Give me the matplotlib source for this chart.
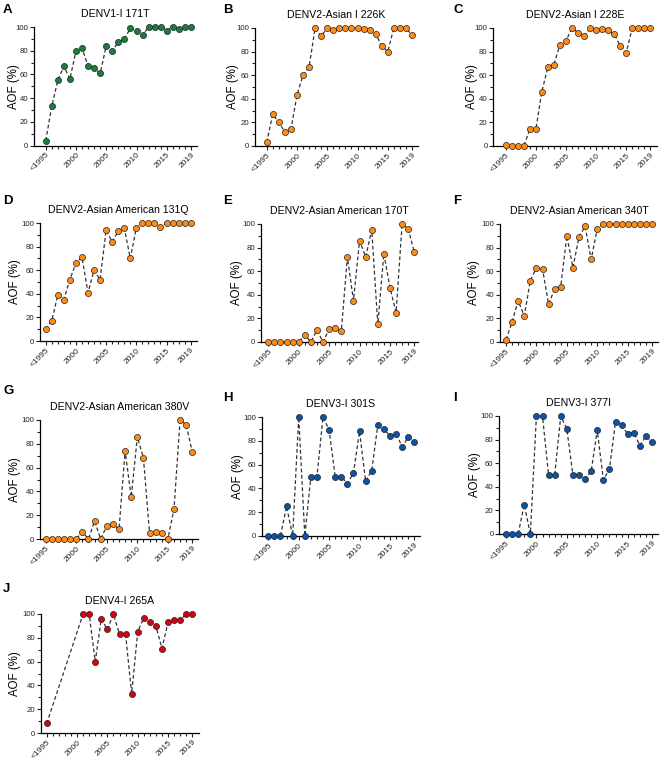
import numpy as np
import matplotlib
matplotlib.use('AGG')
import matplotlib.pyplot as plt
from matplotlib.ticker import MultipleLocator, FixedLocator

plt.rcParams['font.family'] = ['Liberation Sans', 'DejaVu Sans']

years = list(range(1995, 2020))
tick_years = [1995, 2000, 2005, 2010, 2015, 2019]
tick_labels = ['<1995', '2000', '2005', '2010', '2015', '2019']

green = '#167f3b'
orange = '#ff8a14'
blue = '#0b53a6'
red = '#d9000f'

a_171T = [4, 33, 55, 67, 56, 80, 82, 67, 65, 61, 84, 80, 87, 90, 99, 97, 93, 100, 100, 100, 97, 100, 98, 100, 100]
b_226K = [3, 27, 20, 12, 14, 43, 60, 67, 100, 93, 100, 98, 100, 100, 100, 100, 99, 98, 95, 85, 80, 100, 100, 100, 94]
c_228E = [1, 0, 0, 0, 14, 14, 46, 67, 69, 86, 89, 100, 96, 93, 100, 98, 99, 98, 95, 85, 79, 100, 100, 100, 100]
d_131Q = [10, 17, 39, 35, 52, 66, 71, 41, 60, 52, 94, 84, 93, 96, 70, 96, 100, 100, 100, 97, 100, 100, 100, 100, 100]
e_170T = [0, 0, 0, 0, 0, 0, 6, 0, 10, 0, 11, 12, 9, 72, 35, 86, 72, 95, 15, 75, 46, 25, 100, 96, 76]
f_340T = [2, 17, 35, 22, 52, 63, 62, 32, 45, 47, 90, 63, 89, 98, 70, 96, 100, 100, 100, 100, 100, 100, 100, 100, 100]
g_380V = [0, 0, 0, 0, 0, 0, 6, 0, 15, 0, 11, 13, 8, 74, 35, 86, 68, 5, 6, 5, 0, 25, 100, 96, 73]
h_301S = [0, 0, 0, 25, 0, 100, 0, 50, 50, 100, 89, 50, 50, 44, 53, 88, 46, 55, 93, 90, 84, 86, 75, 83, 79]
i_377I = [0, 0, 0, 25, 0, 100, 100, 50, 50, 100, 89, 50, 50, 47, 53, 88, 46, 55, 95, 92, 85, 86, 75, 83, 78]
j_years = [1995] + list(range(2001, 2020))
j_265A = [8, 100, 100, 60, 96, 87, 100, 83, 83, 33, 85, 97, 93, 90, 71, 93, 95, 95, 100, 100]

# layout in px: (axis left, x of 1995, x of 2019, axis right, top, bottom), letter pos, ylabel x
panels = [
    ('A', 'DENV1-I 171T', years, a_171T, green, (34, 45.7, 191, 197, 27, 145.5), (3, 10), 14),
    ('B', 'DENV2-Asian I 226K', years, b_226K, orange, (255, 266.7, 412, 418, 28, 146), (223, 10), 233),
    ('C', 'DENV2-Asian I 228E', years, c_228E, orange, (493.3, 505.7, 650.3, 656.7, 28, 146), (453, 10), 472),
    ('D', 'DENV2-Asian American 131Q', years, d_131Q, orange, (40, 45.7, 190.7, 196.7, 223, 341), (3, 201), 15),
    ('E', 'DENV2-Asian American 170T', years, e_170T, orange, (261, 268.3, 414.3, 418.3, 224, 342), (223, 201), 237),
    ('F', 'DENV2-Asian American 340T', years, f_340T, orange, (500, 506, 652, 658.3, 224, 342), (453, 201), 474),
    ('G', 'DENV2-Asian American 380V', years, g_380V, orange, (40, 45.7, 192.3, 198.3, 420, 539), (3, 391), 15),
    ('H', 'DENV3-I 301S', years, h_301S, blue, (261.7, 268.3, 414.3, 420, 417, 536), (223, 398), 238),
    ('I', 'DENV3-I 377I', years, i_377I, blue, (499.3, 506, 652, 658.3, 416, 534), (453, 398), 475),
    ('J', 'DENV4-I 265A', j_years, j_265A, red, (40.7, 46.7, 192.3, 199, 614, 733), (3, 589), 15),
]

W, H = 665, 768
fig = plt.figure(figsize=(W / 100, H / 100), dpi=100)

for letter, title, xs, ys, col, (l, x0, x1, r, t, b), (lx, ly), ylx in panels:
    ax = fig.add_axes([l / W, 1 - b / H, (r - l) / W, (b - t) / H])
    ax.plot(xs, ys, linestyle=(0, (3, 2)), color='#333333', lw=0.9,
            marker='o', ms=4.4, mfc=col, mec='#222222', mew=0.5, clip_on=False, zorder=3)
    step = (x1 - x0) / 24
    ax.set_xlim(1995 - (x0 - l) / step, 2019 + (r - x1) / step)
    ax.set_ylim(0, 100)
    ax.spines['top'].set_visible(False)
    ax.spines['right'].set_visible(False)
    ax.spines['left'].set_linewidth(0.9)
    ax.spines['bottom'].set_linewidth(0.9)
    ax.yaxis.set_major_locator(MultipleLocator(20))
    ax.yaxis.set_minor_locator(MultipleLocator(10))
    ax.xaxis.set_major_locator(FixedLocator(tick_years))
    ax.xaxis.set_minor_locator(FixedLocator(years))
    ax.set_xticklabels(tick_labels, rotation=45, ha='right', rotation_mode='anchor')
    ax.tick_params(axis='both', which='major', length=2.6, width=0.8, pad=1.5,
                   colors='#222222', labelcolor='#222222')
    ax.tick_params(axis='y', which='major', labelsize=5.6)
    ax.tick_params(axis='x', which='major', labelsize=6)
    ax.tick_params(axis='both', which='minor', length=2.0, width=0.8, colors='#222222')
    ax.set_ylabel('AOF (%)', fontsize=8.3)
    ax.yaxis.set_label_coords((ylx - l) / (r - l), 0.5)
    ax.yaxis.label.set_verticalalignment('center')
    ax.set_title(title, fontsize=7.6, pad=7)
    fig.text(lx / W, 1 - ly / H, letter, fontsize=9.5, fontweight='bold',
             ha='left', va='center')

plt.savefig('out.png', dpi=100)
